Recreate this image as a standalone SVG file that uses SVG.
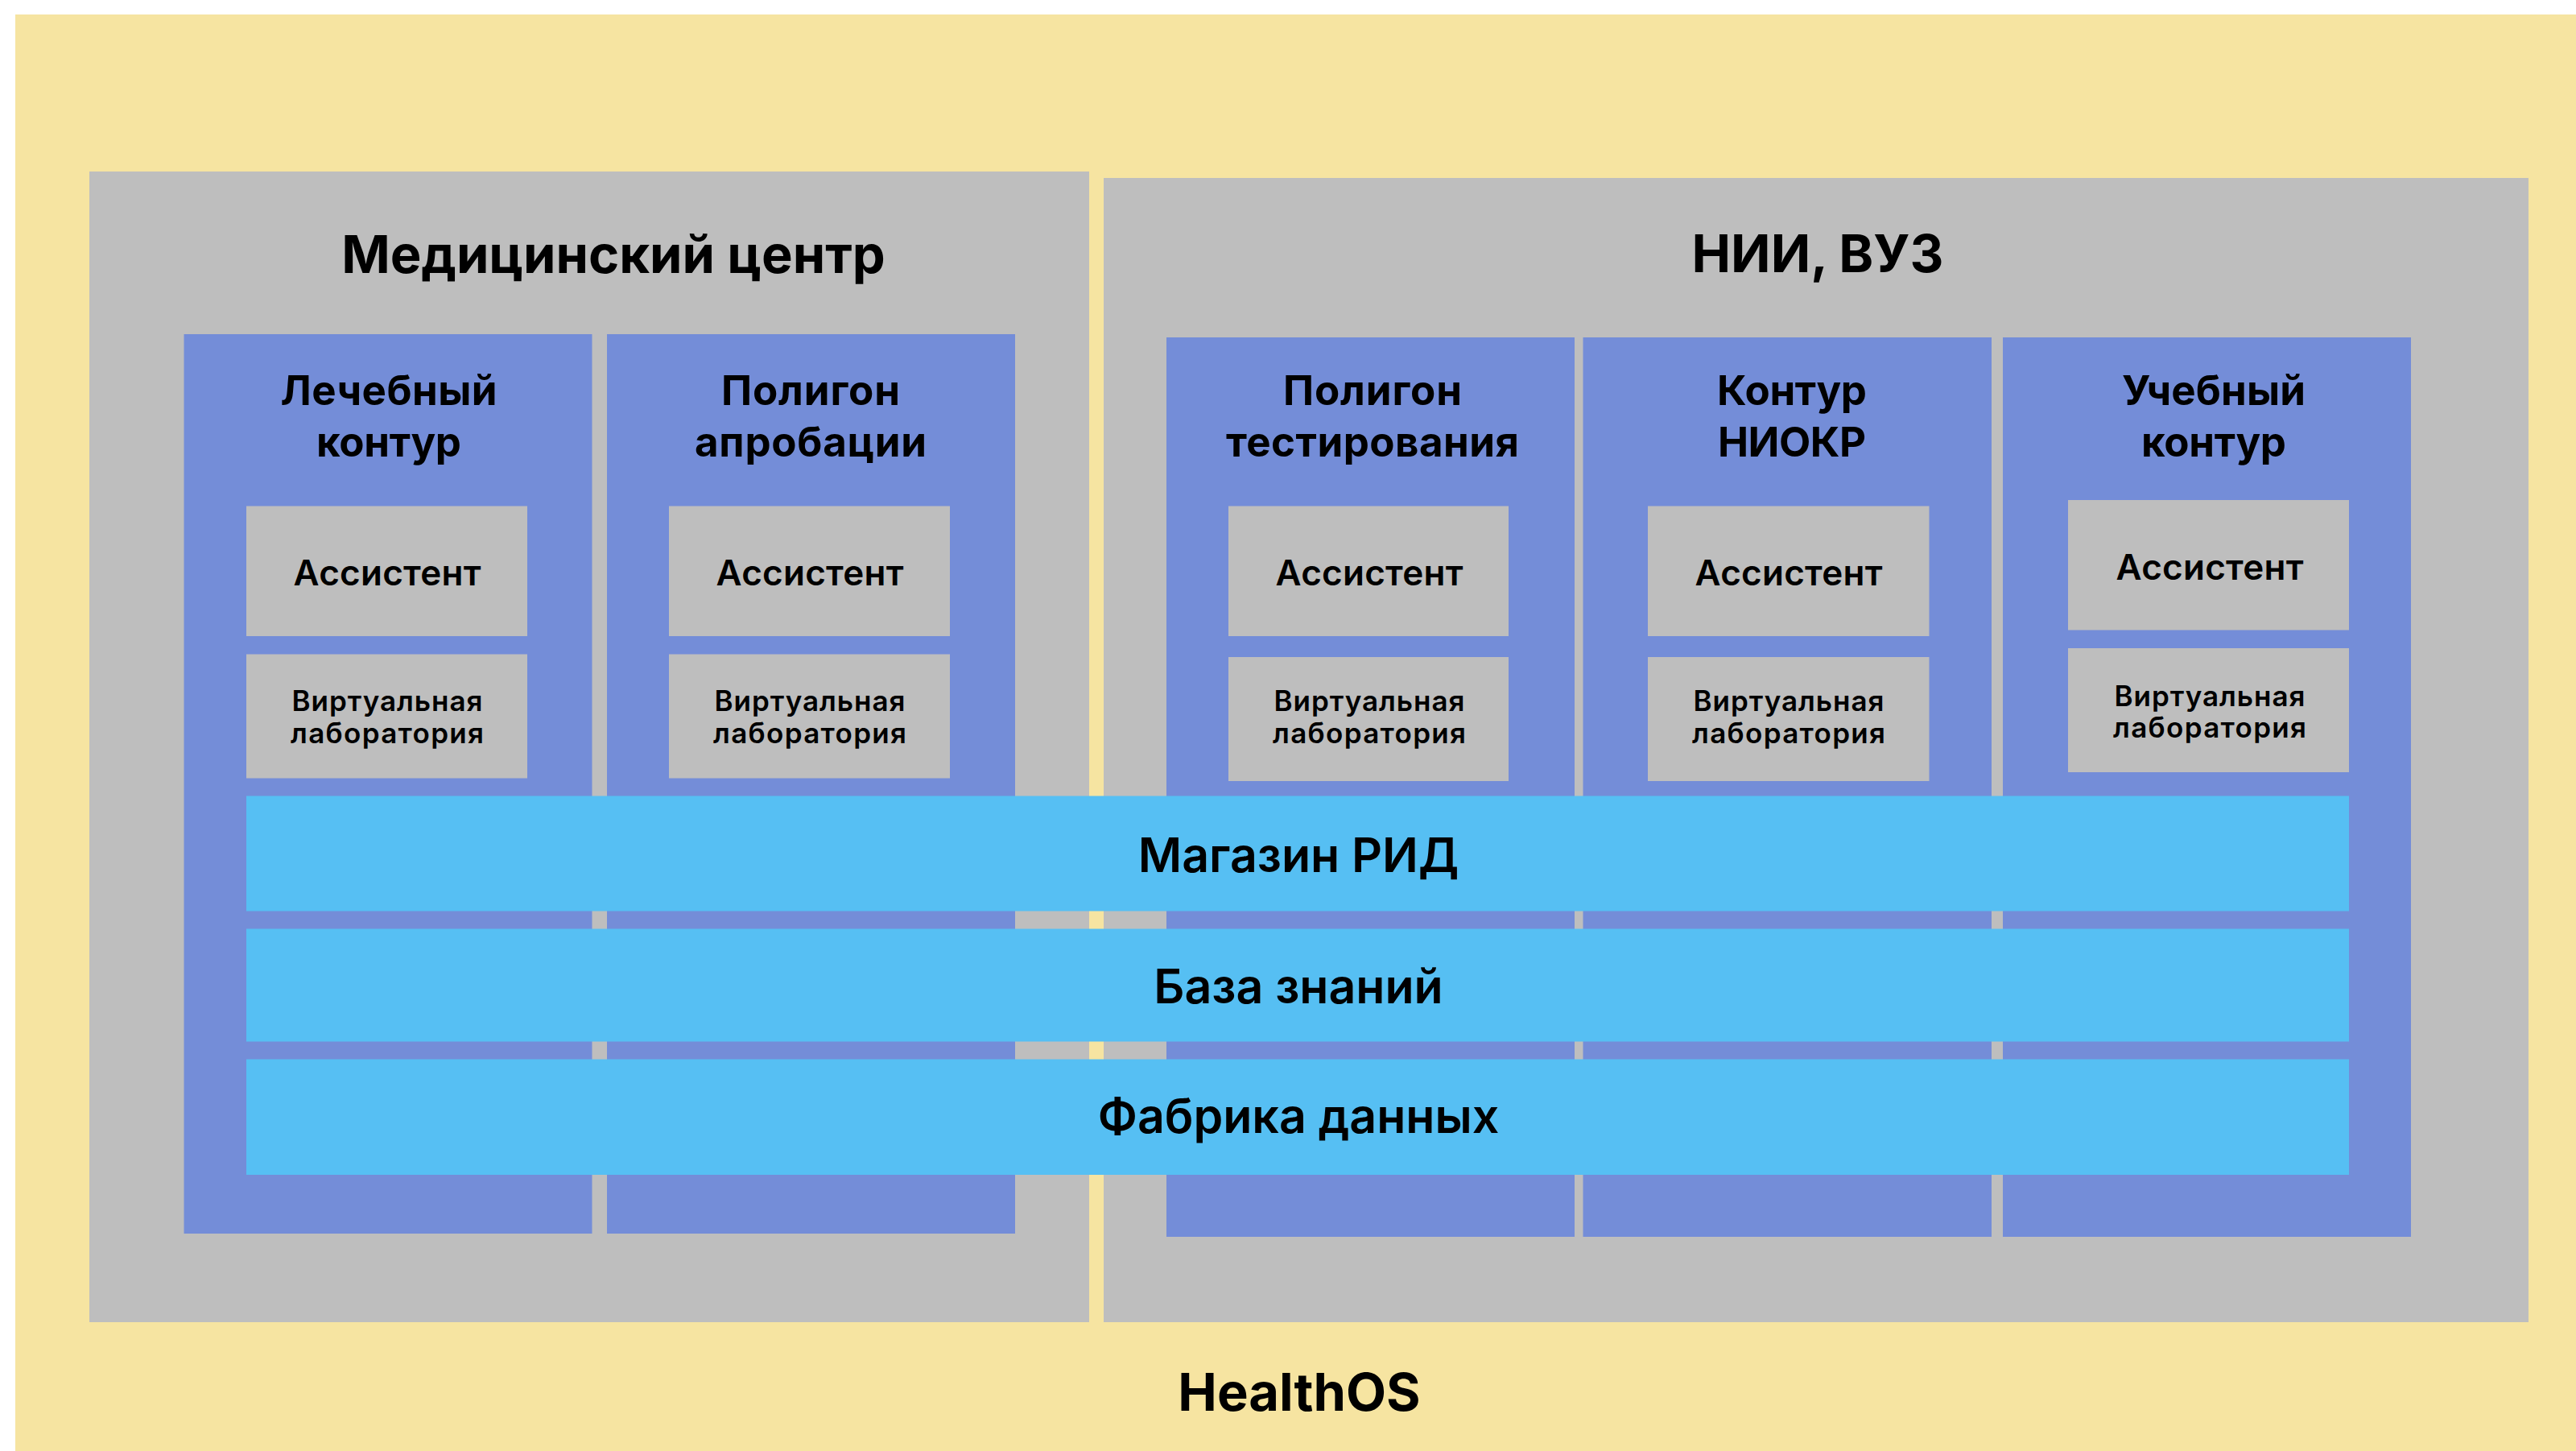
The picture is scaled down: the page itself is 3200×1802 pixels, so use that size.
<svg xmlns="http://www.w3.org/2000/svg" width="3200" height="1802" viewBox="0 0 3200 1802">
  <style>
    text { font-family: Inter, "Noto Sans", "Liberation Sans", sans-serif; fill: #000; text-anchor: middle; }
    .bg { fill: #f6e4a1; }
    .panel { fill: #bebebe; }
    .col { fill: #748dd8; }
    .box { fill: #bebebe; }
    .band { fill: #56bff3; }
    .title { font-size: 65px; font-weight: 700; }
    .head { font-size: 51px; font-weight: 700; }
    .band-t { font-size: 59px; font-weight: 600; }
    .asst { font-size: 44px; font-weight: 600; }
    .vl { font-size: 35px; font-weight: 600; }
  </style>
  <rect width="3200" height="1802" fill="#ffffff"/>
  <g id="healthos">
    <rect class="bg" x="19" y="18" width="3181" height="1784"/>
    <text class="title" x="1614" y="1752">HealthOS</text>
  </g>
  <g id="med-center">
    <rect class="panel" x="111" y="213" width="1242" height="1429"/>
    <text class="title" x="762" y="339">Медицинский центр</text>
  </g>
  <g id="nii-vuz">
    <rect class="panel" x="1371" y="221" width="1770" height="1421"/>
    <text class="title" x="2258" y="338">НИИ, ВУЗ</text>
  </g>
  <g id="col-lech">
    <rect class="col" x="228.5" y="415" width="507" height="1117"/>
    <text class="head" x="483" y="503" textLength="269">Лечебный</text>
    <text class="head" x="483" y="567" textLength="180">контур</text>
  </g>
  <g id="col-aprob">
    <rect class="col" x="754" y="415" width="507" height="1117"/>
    <text class="head" x="1007" y="503" textLength="222">Полигон</text>
    <text class="head" x="1007" y="567" textLength="288">апробации</text>
  </g>
  <g id="col-test">
    <rect class="col" x="1449" y="419" width="507" height="1117"/>
    <text class="head" x="1705" y="503" textLength="222">Полигон</text>
    <text class="head" x="1705" y="567" textLength="364">тестирования</text>
  </g>
  <g id="col-niokr">
    <rect class="col" x="1966.5" y="419" width="507.5" height="1117"/>
    <text class="head" x="2226" y="503" textLength="186">Контур</text>
    <text class="head" x="2226" y="567" textLength="184">НИОКР</text>
  </g>
  <g id="col-ucheb">
    <rect class="col" x="2488" y="419" width="507" height="1117"/>
    <text class="head" x="2750" y="503" textLength="228">Учебный</text>
    <text class="head" x="2750" y="567" textLength="180">контур</text>
  </g>
  <g id="asst-1">
    <rect class="box" x="306" y="628.5" width="349" height="161.5"/>
    <text class="asst" x="481" y="727" textLength="233">Ассистент</text>
  </g>
  <g id="vl-1">
    <rect class="box" x="306" y="812.5" width="349" height="154"/>
    <text class="vl" x="481" y="883" textLength="237">Виртуальная</text>
    <text class="vl" x="481" y="923" textLength="240">лаборатория</text>
  </g>
  <g id="asst-2">
    <rect class="box" x="831" y="628.5" width="349" height="161.5"/>
    <text class="asst" x="1006" y="727" textLength="233">Ассистент</text>
  </g>
  <g id="vl-2">
    <rect class="box" x="831" y="812.5" width="349" height="154"/>
    <text class="vl" x="1006" y="883" textLength="237">Виртуальная</text>
    <text class="vl" x="1006" y="923" textLength="240">лаборатория</text>
  </g>
  <g id="asst-3">
    <rect class="box" x="1526" y="628.5" width="348" height="161.5"/>
    <text class="asst" x="1701" y="727" textLength="233">Ассистент</text>
  </g>
  <g id="vl-3">
    <rect class="box" x="1526" y="816" width="348" height="154"/>
    <text class="vl" x="1701" y="883" textLength="237">Виртуальная</text>
    <text class="vl" x="1701" y="923" textLength="240">лаборатория</text>
  </g>
  <g id="asst-4">
    <rect class="box" x="2047" y="628.5" width="349.5" height="161.5"/>
    <text class="asst" x="2222" y="727" textLength="233">Ассистент</text>
  </g>
  <g id="vl-4">
    <rect class="box" x="2047" y="816" width="349.5" height="154"/>
    <text class="vl" x="2222" y="883" textLength="237">Виртуальная</text>
    <text class="vl" x="2222" y="923" textLength="240">лаборатория</text>
  </g>
  <g id="asst-5">
    <rect class="box" x="2569" y="621" width="349" height="161.5"/>
    <text class="asst" x="2745" y="720" textLength="233">Ассистент</text>
  </g>
  <g id="vl-5">
    <rect class="box" x="2569" y="805" width="349" height="154"/>
    <text class="vl" x="2745" y="877" textLength="237">Виртуальная</text>
    <text class="vl" x="2745" y="916" textLength="240">лаборатория</text>
  </g>
  <g id="magazin-rid">
    <rect class="band" x="306" y="988.5" width="2612" height="143"/>
    <text class="band-t" x="1613" y="1083">Магазин РИД</text>
  </g>
  <g id="baza-znaniy">
    <rect class="band" x="306" y="1153.5" width="2612" height="140"/>
    <text class="band-t" x="1613" y="1246">База знаний</text>
  </g>
  <g id="fabrika-dannyh">
    <rect class="band" x="306" y="1315.5" width="2612" height="143.5"/>
    <text class="band-t" x="1613" y="1407">Фабрика данных</text>
  </g>
  <g id="connectors"/>
</svg>
